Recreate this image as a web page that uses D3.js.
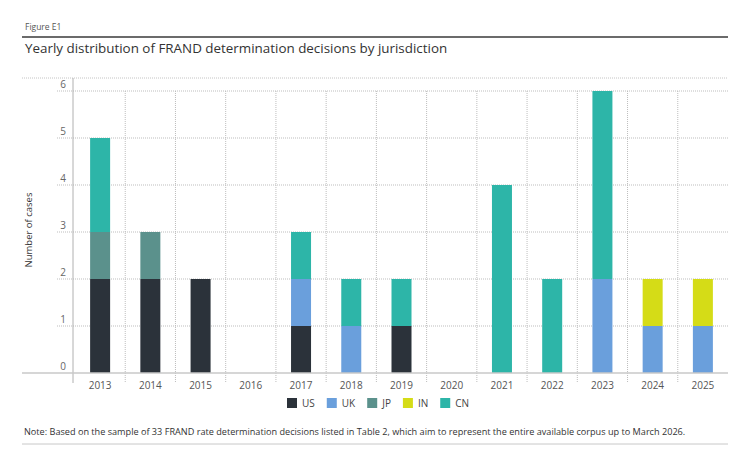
<!DOCTYPE html>
<html>
<head>
<meta charset="utf-8">
<script src="https://cdn.jsdelivr.net/npm/d3@7"></script>
<style>
  body { margin: 0; background: #fff; }
  svg { display: block; font-family: 'Open Sans', 'Noto Sans', sans-serif; }
</style>
</head>
<body>
<svg id="chart" width="752" height="455"></svg>
<script>
const years = ['2013', '2014', '2015', '2016', '2017', '2018', '2019', '2020', '2021', '2022', '2023', '2024', '2025'];
const jurisdictions = ['US', 'UK', 'JP', 'IN', 'CN'];
const us = [2, 2, 2, 0, 1, 0, 1, 0, 0, 0, 0, 0, 0];
const uk = [0, 0, 0, 0, 1, 1, 0, 0, 0, 0, 2, 1, 1];
const jp = [1, 1, 0, 0, 0, 0, 0, 0, 0, 0, 0, 0, 0];
const inn = [0, 0, 0, 0, 0, 0, 0, 0, 0, 0, 0, 1, 1];
const cn = [2, 0, 0, 0, 1, 1, 1, 0, 4, 2, 4, 0, 0];
const yTicks = [0, 1, 2, 3, 4, 5, 6];

const colors = {
  US: '#2b323a',
  UK: '#6a9fdc',
  JP: '#5b918c',
  IN: '#d5dc17',
  CN: '#2db5a8',
};

const table = years.map((year, i) => ({
  year,
  US: us[i],
  UK: uk[i],
  JP: jp[i],
  IN: inn[i],
  CN: cn[i],
}));

const svg = d3.select('#chart');
const left = 22;
const right = 728;

// header
svg.append('text')
  .attr('x', 25)
  .attr('y', 30)
  .style('font-size', '8.5px')
  .style('fill', '#555')
  .text('Figure E1');

svg.append('line')
  .attr('x1', left).attr('x2', right)
  .attr('y1', 37).attr('y2', 37)
  .style('stroke', '#3a3a3a')
  .style('stroke-width', 1.5);

svg.append('text')
  .attr('x', 25)
  .attr('y', 53)
  .style('font-size', '13.4px')
  .style('fill', '#333')
  .text('Yearly distribution of FRAND determination decisions by jurisdiction');

// scales
const x = d3.scaleBand()
  .domain(years)
  .range([75, right])
  .paddingInner(0)
  .paddingOuter(0);

const y = d3.scaleLinear()
  .domain([0, 6])
  .range([373, 91]);

const barWidth = 20;

// top dotted rule
svg.append('line')
  .attr('x1', left).attr('x2', right)
  .attr('y1', 78).attr('y2', 78)
  .style('stroke', '#c4c4c4')
  .style('stroke-dasharray', '1,1');

// horizontal gridlines
svg.append('g')
  .selectAll('line')
  .data(yTicks.filter((d) => d > 0))
  .enter()
  .append('line')
  .attr('x1', 57)
  .attr('x2', right)
  .attr('y1', (d) => y(d))
  .attr('y2', (d) => y(d))
  .style('stroke', '#bdbdbd')
  .style('stroke-dasharray', '1,1');

// vertical gridlines between years
svg.append('g')
  .selectAll('line')
  .data(years.slice(1))
  .enter()
  .append('line')
  .attr('x1', (d) => x(d))
  .attr('x2', (d) => x(d))
  .attr('y1', y(6))
  .attr('y2', 383)
  .style('stroke', '#bdbdbd')
  .style('stroke-dasharray', '1,1');

// y axis
const yAxis = svg.append('g')
  .attr('transform', 'translate(73,0)')
  .call(d3.axisLeft(y).tickValues(yTicks).tickFormat(d3.format('d')).tickSize(0).tickPadding(7));
yAxis.select('.domain').remove();
yAxis.selectAll('text')
  .attr('dy', '-0.35em')
  .style('font-size', '10px')
  .style('fill', '#666')
  .style('font-family', "'Open Sans', sans-serif");

svg.append('line')
  .attr('x1', 73).attr('x2', 73)
  .attr('y1', 78).attr('y2', 383)
  .style('stroke', '#b0b0b0');

svg.append('text')
  .attr('transform', 'translate(32,230) rotate(-90)')
  .attr('text-anchor', 'middle')
  .style('font-size', '9.5px')
  .style('fill', '#333')
  .text('Number of cases');

// bars
const stacked = d3.stack().keys(jurisdictions)(table);

svg.append('g')
  .selectAll('g')
  .data(stacked)
  .enter()
  .append('g')
  .style('fill', (d) => colors[d.key])
  .selectAll('rect')
  .data((d) => d.filter((p) => p[1] > p[0]))
  .enter()
  .append('rect')
  .attr('x', (d) => x(d.data.year) + x.bandwidth() / 2 - barWidth / 2)
  .attr('width', barWidth)
  .attr('y', (d) => y(d[1]))
  .attr('height', (d) => y(d[0]) - y(d[1]));

// baseline
svg.append('line')
  .attr('x1', left).attr('x2', right)
  .attr('y1', y(0)).attr('y2', y(0))
  .style('stroke', '#c8c8c8')
  .style('stroke-width', 1.5);

// x axis labels
const xAxis = svg.append('g')
  .attr('transform', `translate(0,${y(0)})`)
  .call(d3.axisBottom(x).tickSize(0).tickPadding(9));
xAxis.select('.domain').remove();
xAxis.selectAll('text')
  .style('font-size', '10px')
  .style('fill', '#555')
  .style('font-family', "'Open Sans', sans-serif");

// legend
const legend = svg.append('g').attr('transform', 'translate(287,398)');
let lx = 0;
jurisdictions.forEach((key) => {
  const item = legend.append('g').attr('transform', `translate(${lx},0)`);
  item.append('rect')
    .attr('width', 10)
    .attr('height', 10)
    .style('fill', colors[key]);
  const t = item.append('text')
    .attr('x', 15)
    .attr('y', 9)
    .style('font-size', '10px')
    .style('fill', '#444')
    .text(key);
  lx += 15 + t.node().getComputedTextLength() + 12;
});

// note
svg.append('text')
  .attr('x', 24)
  .attr('y', 435)
  .style('font-size', '9.15px')
  .style('fill', '#333')
  .text('Note: Based on the sample of 33 FRAND rate determination decisions listed in Table 2, which aim to represent the entire available corpus up to March 2026.');

svg.append('line')
  .attr('x1', left).attr('x2', right)
  .attr('y1', 444).attr('y2', 444)
  .style('stroke', '#c8c8c8');
</script>
</body>
</html>
